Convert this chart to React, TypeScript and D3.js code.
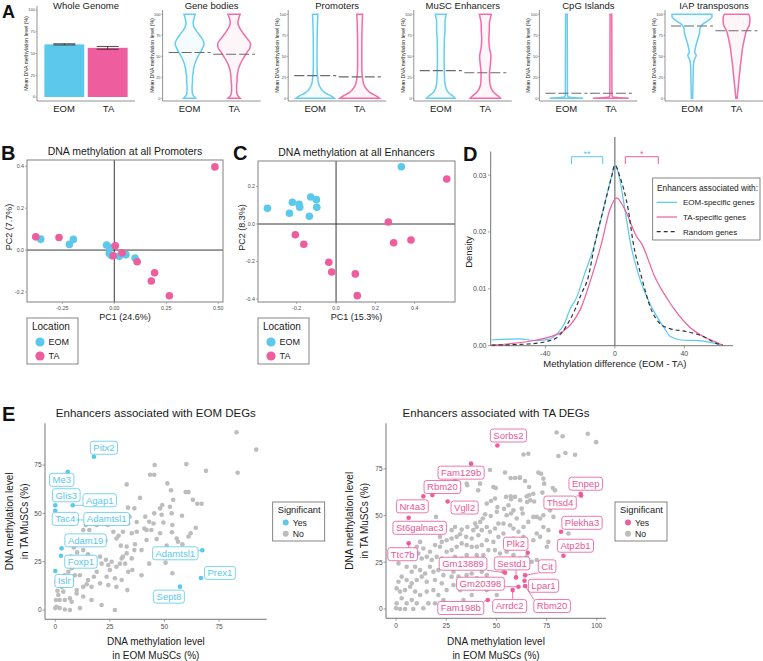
import React from "react";
import * as d3 from "d3";

const FONT = "'Liberation Sans', Arial, Helvetica, sans-serif";
const BLUE = "#5BC8EC";
const PINK = "#EE5D9D";
const LABEL_PINK = "#E9559A";
const GREY = "#BDBDBD";
const AXIS = "#666666";
const TICK_TXT = "#4D4D4D";
const INK = "#1A1A1A";

const locations = ["EOM", "TA"];
const locationColors = [BLUE, PINK];

// ---------- A: mean methylation ----------
const wholeGenomeMean = [60.5, 56.5];
const wholeGenomeSE = [0.7, 1.6];
const methylTicks = [0, 25, 50, 75, 100];
const violinRegions = ["Gene bodies", "Promoters", "MuSC Enhancers", "CpG Islands", "IAP transposons"];
// [methylation %, relative density]
const violinEOM = [
  [[0, 0.29], [5, 0.14], [10, 0.12], [15, 0.12], [20, 0.14], [25, 0.14], [30, 0.17], [35, 0.19], [40, 0.24], [45, 0.31], [50, 0.4], [55, 0.52], [60, 0.62], [65, 0.69], [70, 0.62], [75, 0.48], [80, 0.33], [85, 0.21], [90, 0.17], [95, 0.21], [100, 0.27]],
  [[0, 0.92], [3, 0.75], [6, 0.5], [10, 0.32], [15, 0.2], [20, 0.14], [25, 0.12], [30, 0.1], [40, 0.09], [60, 0.09], [80, 0.1], [90, 0.11], [95, 0.12], [100, 0.13]],
  [[0, 0.68], [3, 0.56], [6, 0.4], [10, 0.28], [15, 0.22], [20, 0.19], [30, 0.17], [50, 0.16], [70, 0.17], [80, 0.2], [90, 0.2], [95, 0.22], [100, 0.26]],
  [[0, 0.8], [1, 0.3], [2, 0.08], [4, 0.05], [100, 0.04]],
  [[0, 0.03], [20, 0.05], [40, 0.07], [47, 0.13], [51, 0.2], [55, 0.13], [62, 0.18], [70, 0.27], [78, 0.36], [83, 0.38], [88, 0.5], [93, 0.8], [97, 0.95], [100, 0.95]],
];
const violinTA = [
  [[0, 0.29], [5, 0.14], [10, 0.12], [15, 0.12], [20, 0.14], [25, 0.15], [30, 0.17], [35, 0.21], [40, 0.28], [45, 0.38], [50, 0.5], [55, 0.62], [60, 0.76], [65, 0.78], [70, 0.66], [75, 0.5], [80, 0.36], [85, 0.24], [90, 0.18], [95, 0.22], [100, 0.29]],
  [[0, 0.95], [3, 0.78], [6, 0.55], [10, 0.36], [15, 0.22], [20, 0.16], [25, 0.13], [30, 0.11], [40, 0.1], [60, 0.1], [80, 0.11], [90, 0.12], [95, 0.13], [100, 0.14]],
  [[0, 0.72], [3, 0.6], [6, 0.45], [10, 0.32], [15, 0.24], [20, 0.21], [30, 0.2], [40, 0.24], [50, 0.27], [60, 0.2], [70, 0.17], [80, 0.19], [90, 0.2], [95, 0.24], [100, 0.28]],
  [[0, 0.85], [1, 0.3], [2, 0.08], [4, 0.05], [100, 0.04]],
  [[0, 0.03], [10, 0.07], [20, 0.11], [30, 0.15], [40, 0.19], [50, 0.24], [60, 0.29], [70, 0.37], [80, 0.47], [88, 0.62], [95, 0.64], [100, 0.58]],
];
const violinMedianEOM = [54.5, 27, 33, 6, 86];
const violinMedianTA = [52.5, 25.5, 30.5, 6, 80.5];

// ---------- B / C: PCA ----------
const pcPromotersEOM = [
  [-0.354, 0.052], [-0.216, 0.027], [-0.197, 0.051], [-0.037, 0.024], [-0.021, 0.013],
  [-0.024, -0.016], [-0.013, -0.027], [0.024, -0.029], [0.056, -0.022], [0.1, -0.038],
];
const pcPromotersTA = [
  [-0.378, 0.063], [-0.266, 0.06], [0.005, 0.02], [-0.005, -0.027], [0.037, -0.013],
  [0.11, -0.056], [0.194, -0.108], [0.178, -0.148], [0.265, -0.218], [0.484, 0.397],
];
const pcEnhancersEOM = [
  [-0.349, 0.084], [-0.237, 0.057], [-0.222, 0.116], [-0.188, 0.105], [-0.185, 0.09],
  [-0.129, 0.144], [-0.1, 0.13], [-0.098, 0.089], [-0.136, 0.041], [0.332, 0.305],
];
const pcEnhancersTA = [
  [-0.207, -0.057], [-0.164, -0.108], [-0.037, -0.204], [-0.022, -0.256], [0.098, -0.266],
  [0.108, -0.382], [0.266, 0.011], [0.293, -0.1], [0.381, -0.085], [0.563, 0.24],
];

// ---------- D: density of methylation difference ----------
const densityEOMGenes = [[-71, 0.001], [-55, 0.0012], [-45, 0.0009], [-38, 0.0011], [-33, 0.0022], [-29, 0.0039], [-26, 0.0063], [-22, 0.0085], [-18, 0.0121], [-11.5, 0.018], [-6.7, 0.0239], [-2, 0.0297], [0, 0.0318], [2.5, 0.0297], [5.8, 0.0239], [9, 0.018], [14, 0.0121], [22, 0.0063], [28, 0.0033], [32, 0.0016], [38, 0.001], [48, 0.0009], [55, 0.0006], [62, 0.0001]];
const densityTAGenes = [[-71, 0.0001], [-58.5, 0.0004], [-45, 0.001], [-37, 0.0016], [-30, 0.0025], [-25, 0.0039], [-20, 0.0063], [-13.4, 0.0121], [-7.7, 0.018], [-2.9, 0.0239], [1, 0.026], [5.8, 0.0239], [12.5, 0.0192], [15.3, 0.018], [23, 0.0121], [30.7, 0.008], [34.5, 0.0063], [43, 0.0033], [51, 0.0016], [60, 0.0004], [62, 0.0001]];
const densityRandomGenes = [[-71, 0.0001], [-50, 0.0003], [-40, 0.0007], [-34, 0.0013], [-30, 0.0025], [-26, 0.0045], [-23, 0.0063], [-19.5, 0.009], [-15.3, 0.0121], [-11.5, 0.018], [-6.7, 0.0239], [-1.9, 0.0297], [0, 0.0318], [2.9, 0.0297], [7.7, 0.0239], [10.6, 0.018], [15.3, 0.0121], [21, 0.0063], [25.9, 0.0039], [31.7, 0.003], [41, 0.0025], [51, 0.0016], [58.5, 0.0004], [62, 0.0001]];
const densityLegend = ["EOM-specific genes", "TA-specific genes", "Random genes"];
const sigBrackets = [{ from: -25, to: -7, label: "**" }, { from: 6, to: 25, label: "*" }];

// ---------- E: enhancer methylation scatter ----------
const eomDegGrey = [
  [83, 92], [92, 83], [83.5, 71], [69, 72], [60, 75.5], [45.5, 75], [45.3, 70], [43.4, 70], [51.3, 65.5], [59.7, 61], [61, 61], [53, 62], [32.7, 65], [38.8, 58], [33.3, 53], [36.2, 52.6], [41.2, 48.3], [45.3, 50], [48.7, 49.3], [48, 52.6], [52.5, 53.4], [53.3, 50], [58, 48.8], [54, 57], [63, 57], [65, 55], [67, 55], [49, 54.3], [49.5, 45.3], [53.6, 44], [45, 44.8], [43, 45.7], [40.8, 42.2], [37.3, 45.5], [34, 48.3], [32, 46.2], [33.4, 44.8], [29.6, 45.7], [26.6, 46.6], [24, 44], [26.6, 40.5], [31, 40.5], [29, 38.4], [35, 39.7], [37.3, 40.5], [41.8, 41.4], [44, 41.4], [48, 39.7], [53.4, 40.2], [55.6, 37], [61, 38], [64.3, 42.6], [62, 39.7], [58.2, 34], [51, 33.3], [46.4, 36.7], [41.8, 36.2], [36.5, 34], [32.7, 32.8], [30, 33.3], [28, 37], [23, 36], [20.5, 38], [19, 44], [15.6, 41.4], [12.8, 41.4], [14, 44], [16.6, 38], [14.4, 36.6], [11.3, 35.3], [8.5, 32.4], [7, 27.6], [10, 29.8], [12.8, 31], [15, 28.8], [13.6, 26], [17.4, 26], [18.2, 23], [20.5, 27.6], [21.2, 24], [23.2, 26], [25.8, 25], [24.3, 23.3], [25, 20.7], [28, 22.4], [29.6, 24], [32, 24], [30.4, 26.7], [35, 26.7], [32.7, 29.3], [36.2, 31], [39.5, 31], [43, 24], [50.5, 24.5], [53.6, 19], [56.2, 35.3], [31, 27.6], [23.5, 17.2], [27.3, 16.4], [28, 12], [30.4, 15.5], [33.4, 19.8], [35.3, 20.7], [39.5, 18], [33, 10.3], [20.5, 13.8], [24.3, 12.9], [21.2, 2.6], [16.6, 12], [15, 15.5], [12.8, 12], [11.3, 18], [9, 18], [7.5, 15.5], [4.4, 18], [6, 19.8], [0.6, 14.7], [3, 12], [6, 14.7], [6.7, 13.8], [3.7, 9.5], [6.7, 6], [7.5, 4.3], [1.4, 7.8], [0.3, 5.2], [2, 5.2], [0.6, 1.7], [0, 1], [2, 1], [4.4, 0.3], [6.7, 0], [11.3, 1], [16.6, 5.2], [27.3, 0], [9.8, 10.3], [14.4, 13.3], [17.7, 17.2], [19, 19.8], [11.3, 24], [7.5, 21.6], [4.4, 5.2], [1, 10], [9.8, 8.6], [12.8, 7],
];
const eomSigGenes = ["Pitx2", "Me3", "Glis3", "Agap1", "Tac4", "Adamtsl1", "Adam19", "Foxp1", "Islr", "Adamtsl1", "Prex1", "Sept8"];
const eomSigEOM = [17.7, 5.7, 0, 8, 0, 9.8, 2.9, 2.6, 0, 67.3, 66.7, 57.1];
const eomSigTA = [79.3, 71.5, 54.2, 54.2, 51.3, 46.6, 31.9, 28.1, 20.2, 30.9, 16.6, 12.1];
const eomLabelNudge = [[10, -9], [-6, 8], [11, -10], [27, -5], [10, 8], [30, -1], [24, -8], [20, 6], [9, 10], [-27, 3], [19, -5], [-11, 10]];

const taDegGrey = [
  [80, 94.5], [83, 92.5], [95.5, 93.8], [99.7, 89.3], [84.4, 83.5], [80.9, 81.9], [89.2, 82.6], [63.5, 82.7], [65.9, 83.1], [70.9, 73], [72.3, 72.4], [61.5, 70.3], [54.3, 73], [46.8, 74.4], [41.9, 67.1], [35.2, 67.1], [29.4, 68.9], [35.5, 66.2], [40.9, 63.5], [40.2, 74.2], [48.5, 65.3], [49.7, 64.8], [57.1, 70.1], [59.3, 70.1], [61.8, 70.3], [64.3, 68.5], [73.4, 69.8], [73.8, 67.1], [78.1, 64.8], [79.2, 63.5], [72.9, 62.3], [66.3, 65.3], [68.4, 61.7], [66.3, 60.9], [65.1, 60.3], [57.1, 60.3], [54.8, 60], [59.3, 60], [57.3, 58.7], [61.8, 58.2], [65.3, 57.3], [66.8, 58.2], [68.8, 57.5], [49.3, 59.1], [47.3, 57.8], [45.2, 56.4], [50.5, 54.6], [53.8, 53.6], [56, 55.5], [58.5, 52.8], [62.6, 53.7], [63.1, 51.1], [60.1, 48.4], [57.3, 51.1], [55.1, 50.2], [50.2, 52], [47.2, 49.8], [44.4, 50.7], [43.2, 48.4], [41.9, 46.6], [39.4, 45.7], [40.2, 43.9], [38.5, 42.2], [35.5, 43.9], [32.7, 42.5], [29.4, 43.9], [27.7, 42.2], [23.6, 41.6], [21.9, 38.6], [19.9, 49.3], [22.8, 35.9], [25.2, 36.8], [27.7, 37.7], [30.2, 38.6], [31.9, 40], [34.9, 38.6], [37.7, 37.7], [41, 39.5], [42.7, 42.2], [45.2, 43.9], [46.8, 41.3], [49.3, 43.1], [51, 45.7], [53.5, 45.7], [56.8, 44.8], [58.5, 43.1], [61, 41.3], [63.5, 43.9], [65.9, 46.6], [68.4, 49.3], [70.1, 49.3], [71.8, 48.4], [73.4, 50.2], [76.7, 52.8], [78.4, 49.3], [73.4, 43.9], [75.9, 42.2], [71.8, 38.6], [68.4, 36.8], [63.5, 38.6], [61.8, 35.9], [58.5, 37.7], [56, 36.8], [53.5, 40.4], [51, 38.6], [48.5, 35.9], [45.2, 36.8], [42.7, 34.2], [40.2, 33.3], [37.7, 33.3], [35.2, 34.2], [32.7, 35.1], [30.2, 33.3], [27.7, 31.5], [25.2, 30.6], [21.9, 33.3], [19.4, 34.2], [16.9, 30.6], [13.6, 32.4], [12, 35.9], [10.3, 33.3], [11.1, 29.7], [7.8, 27], [12.8, 27], [15.3, 27.9], [17.8, 26.2], [20.3, 27.9], [22.8, 27], [25.2, 26.2], [29.4, 27.9], [32.7, 27], [35.2, 28.8], [40.2, 28.8], [43.5, 28.8], [46, 31.5], [49.3, 31.5], [51.8, 29.7], [55.1, 30.6], [58.5, 28.8], [61.8, 27], [65.1, 27.9], [67.6, 25.3], [70.1, 26.2], [75.9, 35.9], [75.1, 33.3], [85.9, 40.4], [70.1, 40.4], [75.1, 24.4], [1.2, 24.4], [5.3, 22.6], [7.8, 19.9], [9.5, 22.6], [12, 20.8], [14.5, 19], [16.9, 22.6], [18.6, 19.9], [21.1, 20.8], [23.6, 18.1], [26.1, 22.6], [28.6, 19.9], [31.1, 17.3], [27.7, 17.3], [32.7, 14.6], [35.2, 18.1], [37.7, 19], [40.2, 16.4], [42.7, 19.9], [45.2, 18.1], [47.7, 15.5], [50.2, 13.7], [53.5, 19.9], [41.9, 11.9], [38.5, 11], [34.4, 11.9], [31.9, 10.1], [28.6, 12.8], [25.2, 10.1], [22.8, 13.7], [19.4, 15.5], [15.3, 14.6], [12.8, 17.3], [10.3, 15.5], [7.8, 13.7], [5.3, 15.5], [2.8, 17.3], [1.2, 14.6], [0.3, 11], [2, 9.3], [4.5, 10.1], [7, 11.9], [9.5, 9.3], [12, 7.5], [15.3, 9.3], [18.6, 10.1], [21.1, 7.5], [23.6, 4.8], [19.4, 3], [16.1, 3], [13.6, 0.4], [10.3, 3], [7.8, 4.8], [5.3, 3], [2.8, 5.7], [0.3, 3], [0, 0.4], [2, 0], [4.5, 0], [8.6, 0], [28.6, 3], [37.7, 7.5], [50.2, 7.5], [45.2, 10.1], [33.6, 4.8],
];
const taSigGenes = ["Sorbs2", "Fam129b", "Rbm20", "Nr4a3", "Vgll2", "St6galnac3", "Ttc7b", "Enpep", "Thsd4", "Plekha3", "Atp2b1", "Plk2", "Gm13889", "Sestd1", "Cit", "Gm20398", "Lpar1", "Rbm20", "Arrdc2", "Fam198b"];
const taSigEOM = [50.5, 37.4, 18.1, 13.6, 25.7, 6.3, 6.3, 92, 92.2, 82.2, 83.4, 65.6, 54.3, 59.8, 64.3, 61, 64, 64.3, 58.1, 45.7];
const taSigTA = [87.5, 77.8, 61, 60.3, 57.5, 48.8, 35.2, 61.7, 60.7, 41.3, 28.5, 30.1, 19.4, 16.9, 18, 11.9, 15.1, 12.3, 10.1, 4.8];
const taLabelNudge = [[11, -10], [-10, 9], [10, -8], [-11, 10], [17, 6], [11, 10], [-6, 11], [5, -10], [-21, 7], [21, -9], [12, -10], [-12, -9], [-42, -9], [-4, -14], [22, -9], [-38, -3], [19, 5], [27, 20], [-3, 16], [-27, 8]];
const significance = ["Yes", "No"];

let measureCtx = null;
function textWidth(s, size) {
  if (!measureCtx && typeof document !== "undefined") measureCtx = document.createElement("canvas").getContext("2d");
  if (measureCtx) {
    measureCtx.font = `${size}px "Liberation Sans", Arial, sans-serif`;
    return measureCtx.measureText(s).width;
  }
  return s.length * size * 0.55;
}

function PanelA() {
  const yBar = d3.scaleLinear().domain([0, 100]).range([97, 10]);
  const yV = d3.scaleLinear().domain([0, 100]).range([98.3, 14.3]);
  const halfW = d3.scaleLinear().domain([0, 1]).range([0, 21]);
  const frames = d3.range(6).map((k) => {
    const x = d3.scalePoint().domain(locations).range([64 + 125.6 * k, 108.5 + 125.6 * k]);
    return { x, left: x("EOM") - 27, right: x("TA") + 26.5 };
  });
  const titles = ["Whole Genome", ...violinRegions];

  return (
    <g>
      {frames.map((f, k) => {
        const y = k === 0 ? yBar : yV;
        const top = k === 0 ? 6 : 10;
        return (
          <g key={k}>
            <text x={(f.left + f.right) / 2} y={9} textAnchor="middle" fontSize={9.5} fill={INK}>{titles[k]}</text>
            <line x1={f.left} x2={f.left} y1={top} y2={101} stroke={AXIS} strokeWidth={0.7} />
            <line x1={f.left} x2={f.right} y1={101} y2={101} stroke={AXIS} strokeWidth={0.7} />
            {methylTicks.map((t) => (
              <g key={t}>
                <line x1={f.left - 1.5} x2={f.left} y1={y(t)} y2={y(t)} stroke={AXIS} strokeWidth={0.5} />
                <text x={f.left - 2} y={y(t) + 1.4} textAnchor="end" fontSize={4} fill={TICK_TXT}>{t}</text>
              </g>
            ))}
            <text transform={`translate(${f.left - 9},${(top + 101) / 2}) rotate(-90)`} textAnchor="middle" fontSize={5.2} fill={INK}>
              Mean DNA methylation level (%)
            </text>
            {locations.map((loc) => (
              <text key={loc} x={f.x(loc)} y={111.5} textAnchor="middle" fontSize={9.5} fill={INK}>{loc}</text>
            ))}
          </g>
        );
      })}
      {(() => {
        const f = frames[0];
        const band = d3.scaleBand().domain(locations).range([f.left, f.right]).paddingInner(0.08).paddingOuter(0.17);
        return locations.map((loc, i) => {
          const cx = band(loc) + band.bandwidth() / 2;
          return (
            <g key={loc}>
              <rect x={band(loc)} y={yBar(wholeGenomeMean[i])} width={band.bandwidth()} height={yBar(0) - yBar(wholeGenomeMean[i])} fill={locationColors[i]} />
              <line x1={cx} x2={cx} y1={yBar(wholeGenomeMean[i] - wholeGenomeSE[i])} y2={yBar(wholeGenomeMean[i] + wholeGenomeSE[i])} stroke="#222" strokeWidth={0.8} />
              {[-1, 1].map((s) => (
                <line key={s} x1={cx - 11} x2={cx + 11} y1={yBar(wholeGenomeMean[i] + s * wholeGenomeSE[i])} y2={yBar(wholeGenomeMean[i] + s * wholeGenomeSE[i])} stroke="#222" strokeWidth={0.8} />
              ))}
            </g>
          );
        });
      })()}
      {violinRegions.map((region, r) => {
        const f = frames[r + 1];
        return (
          <g key={region}>
            {[violinEOM[r], violinTA[r]].map((prof, i) => {
              const cx = f.x(locations[i]);
              const area = d3.area().curve(d3.curveMonotoneY)
                .y((d) => yV(d[0]))
                .x0((d) => cx - halfW(d[1]))
                .x1((d) => cx + halfW(d[1]));
              const med = i === 0 ? violinMedianEOM[r] : violinMedianTA[r];
              return (
                <g key={i}>
                  <path d={area(prof)} fill={locationColors[i]} fillOpacity={0.06} stroke={locationColors[i]} strokeWidth={1.5} strokeOpacity={0.9} />
                  <line x1={cx - 21} x2={cx + 21} y1={yV(med)} y2={yV(med)} stroke="#6b6b6b" strokeWidth={1.1} strokeDasharray="10,3" />
                </g>
              );
            })}
          </g>
        );
      })}
    </g>
  );
}

function Legend({ x, y, w, h, title, titleSize, items, colors, itemSize, r, rowGap, firstRow }) {
  return (
    <g>
      <rect x={x} y={y} width={w} height={h} fill="white" stroke="#666" strokeWidth={0.8} />
      <text x={x + 5} y={y + titleSize + 1.5} fontSize={titleSize} fill={INK}>{title}</text>
      {items.map((it, i) => (
        <g key={it}>
          <circle cx={x + 13} cy={y + firstRow + i * rowGap} r={r} fill={colors[i]} />
          <text x={x + 13 + r + 4} y={y + firstRow + i * rowGap + itemSize * 0.36} fontSize={itemSize} fill={INK}>{it}</text>
        </g>
      ))}
    </g>
  );
}

function PCAPanel({ l, r, t, b, xDomain, yDomain, xTicks, yTicks, xFmt, yFmt, eom, ta, title, xTitle, yTitle, yTitleX }) {
  const x = d3.scaleLinear().domain(xDomain).range([l, r]);
  const y = d3.scaleLinear().domain(yDomain).range([b, t]);
  return (
    <g>
      <text x={(l + r) / 2} y={t - 5} textAnchor="middle" fontSize={10.5} fill={INK}>{title}</text>
      <line x1={x(0)} x2={x(0)} y1={t} y2={b} stroke="#222" strokeWidth={0.9} />
      <line x1={l} x2={r} y1={y(0)} y2={y(0)} stroke="#222" strokeWidth={0.9} />
      {eom.map((d, i) => <circle key={"e" + i} cx={x(d[0])} cy={y(d[1])} r={3.8} fill={BLUE} />)}
      {ta.map((d, i) => <circle key={"t" + i} cx={x(d[0])} cy={y(d[1])} r={3.8} fill={PINK} />)}
      <rect x={l} y={t} width={r - l} height={b - t} fill="none" stroke="#808080" strokeWidth={1} />
      {xTicks.map((v) => (
        <g key={v}>
          <line x1={x(v)} x2={x(v)} y1={b} y2={b + 2} stroke="#808080" strokeWidth={0.6} />
          <text x={x(v)} y={b + 7.5} textAnchor="middle" fontSize={5.3} fill={TICK_TXT}>{xFmt(v)}</text>
        </g>
      ))}
      {yTicks.map((v) => (
        <g key={v}>
          <line x1={l - 2} x2={l} y1={y(v)} y2={y(v)} stroke="#808080" strokeWidth={0.6} />
          <text x={l - 3} y={y(v) + 1.9} textAnchor="end" fontSize={5.3} fill={TICK_TXT}>{yFmt(v)}</text>
        </g>
      ))}
      <text x={(l + r) / 2} y={b + 18} textAnchor="middle" fontSize={9} fill={INK}>{xTitle}</text>
      <text transform={`translate(${yTitleX},${(t + b) / 2 - 4}) rotate(-90)`} textAnchor="middle" fontSize={9} fill={INK}>{yTitle}</text>
      <Legend x={l} y={b + 16} w={51} h={46} title="Location" titleSize={10} items={locations} colors={locationColors} itemSize={9} r={4.6} rowGap={14} firstRow={24} />
    </g>
  );
}

function DensityPanel() {
  const x = d3.scaleLinear().domain([-71.5, 68]).range([490.7, 733]);
  const y = d3.scaleLinear().domain([0, 0.0367]).range([345.7, 137]);
  const line = d3.line().curve(d3.curveMonotoneX).x((d) => x(d[0])).y((d) => y(d[1]));
  const series = [densityEOMGenes, densityTAGenes, densityRandomGenes];
  const colors = [BLUE, PINK, "#333"];
  const dashes = [null, null, "4,3"];
  return (
    <g>
      <line x1={x(0)} x2={x(0)} y1={137} y2={345.7} stroke="#444" strokeWidth={0.9} />
      <line x1={490.7} x2={490.7} y1={151.5} y2={345.7} stroke={AXIS} strokeWidth={0.9} />
      <line x1={490.7} x2={733} y1={345.7} y2={345.7} stroke={AXIS} strokeWidth={0.9} />
      {[0, 0.01, 0.02, 0.03].map((v) => (
        <g key={v}>
          <line x1={488} x2={490.7} y1={y(v)} y2={y(v)} stroke={AXIS} strokeWidth={0.6} />
          <text x={486.5} y={y(v) + 2.4} textAnchor="end" fontSize={7} fill={TICK_TXT}>{v.toFixed(2)}</text>
        </g>
      ))}
      {[-40, 0, 40].map((v) => (
        <g key={v}>
          <line x1={x(v)} x2={x(v)} y1={345.7} y2={348.5} stroke={AXIS} strokeWidth={0.6} />
          <text x={x(v)} y={355.5} textAnchor="middle" fontSize={7} fill={TICK_TXT}>{v}</text>
        </g>
      ))}
      {series.map((s, i) => (
        <path key={i} d={line(s)} fill="none" stroke={colors[i]} strokeWidth={1.2} strokeDasharray={dashes[i] || undefined} />
      ))}
      {sigBrackets.map((br, i) => (
        <g key={i}>
          <path d={`M${x(br.from)},164 V156.7 H${x(br.to)} V164`} fill="none" stroke={locationColors[i]} strokeWidth={1} />
          <text x={(x(br.from) + x(br.to)) / 2} y={157} textAnchor="middle" fontSize={9} fill={locationColors[i]}>{br.label}</text>
        </g>
      ))}
      <text x={x(0)} y={367} textAnchor="middle" fontSize={9.5} fill={INK}>Methylation difference (EOM - TA)</text>
      <text transform="translate(471.5,252) rotate(-90)" textAnchor="middle" fontSize={9.5} fill={INK}>Density</text>
      <rect x={652.7} y={178} width={107.3} height={62} fill="white" stroke="#666" strokeWidth={0.8} />
      <text x={657} y={191} fontSize={8.3} fill={INK}>Enhancers associated with:</text>
      {densityLegend.map((lab, i) => (
        <g key={lab}>
          <line x1={656.7} x2={677} y1={202.3 + i * 14.7} y2={202.3 + i * 14.7} stroke={colors[i]} strokeWidth={1.2} strokeDasharray={dashes[i] || undefined} />
          <text x={683} y={205.2 + i * 14.7} fontSize={8} fill={INK}>{lab}</text>
        </g>
      ))}
    </g>
  );
}

function RepelLabel({ px, py, lx, ly, text, color }) {
  const size = 9.5;
  const w = textWidth(text, size) + 6;
  const h = 13;
  const left = lx - w / 2;
  const top = ly - h / 2;
  const nx = Math.max(left, Math.min(px, left + w));
  const ny = Math.max(top, Math.min(py, top + h));
  const dist = Math.hypot(nx - px, ny - py);
  return (
    <g>
      {dist > 4 && <line x1={px} y1={py} x2={nx} y2={ny} stroke={color} strokeWidth={0.8} />}
      <rect x={left} y={top} width={w} height={h} rx={2.5} fill="white" fillOpacity={0.92} stroke={color} strokeWidth={0.8} />
      <text x={lx} y={ly + 3.4} textAnchor="middle" fontSize={size} fill={color}>{text}</text>
    </g>
  );
}

function ScatterPanel({ l, r, t, b, xDomain, yDomain, xTicks, yTicks, grey, genes, sigX, sigY, nudges, color, labelColor, title, yTitleX, legendX }) {
  const x = d3.scaleLinear().domain(xDomain).range([l, r]);
  const y = d3.scaleLinear().domain(yDomain).range([b, t]);
  const cx = (l + r) / 2;
  return (
    <g>
      <text x={cx} y={416.5} textAnchor="middle" fontSize={11.5} fill={INK}>{title}</text>
      <line x1={l} x2={l} y1={t} y2={b} stroke={AXIS} strokeWidth={0.9} />
      <line x1={l} x2={r} y1={b} y2={b} stroke={AXIS} strokeWidth={0.9} />
      {xTicks.map((v) => (
        <g key={v}>
          <line x1={x(v)} x2={x(v)} y1={b} y2={b + 2.5} stroke={AXIS} strokeWidth={0.6} />
          <text x={x(v)} y={b + 9.3} textAnchor="middle" fontSize={6.5} fill={TICK_TXT}>{v}</text>
        </g>
      ))}
      {yTicks.map((v) => (
        <g key={v}>
          <line x1={l - 2.5} x2={l} y1={y(v)} y2={y(v)} stroke={AXIS} strokeWidth={0.6} />
          <text x={l - 3.5} y={y(v) + 2.3} textAnchor="end" fontSize={6.5} fill={TICK_TXT}>{v}</text>
        </g>
      ))}
      {grey.map((d, i) => <circle key={i} cx={x(d[0])} cy={y(d[1])} r={2.3} fill={GREY} />)}
      {genes.map((g, i) => <circle key={"s" + i} cx={x(sigX[i])} cy={y(sigY[i])} r={2.3} fill={color} />)}
      {genes.map((g, i) => (
        <RepelLabel key={"l" + i} px={x(sigX[i])} py={y(sigY[i])} lx={x(sigX[i]) + nudges[i][0]} ly={y(sigY[i]) + nudges[i][1]} text={g} color={labelColor} />
      ))}
      <text x={cx} y={644.5} textAnchor="middle" fontSize={10} fill={INK}>DNA methylation level</text>
      <text x={cx} y={658.5} textAnchor="middle" fontSize={10} fill={INK}>in EOM MuSCs (%)</text>
      <text transform={`translate(${yTitleX},${(t + b) / 2}) rotate(-90)`} textAnchor="middle" fontSize={10} fill={INK}>DNA methylation level</text>
      <text transform={`translate(${yTitleX + 15},${(t + b) / 2}) rotate(-90)`} textAnchor="middle" fontSize={10} fill={INK}>in TA MuSCs (%)</text>
      <Legend x={legendX} y={502} w={52} h={39} title="Significant" titleSize={9.3} items={significance} colors={[color, GREY]} itemSize={8.7} r={3} rowGap={11.3} firstRow={20.5} />
    </g>
  );
}

export default function App() {
  const f2 = (v) => v.toFixed(2);
  const f1 = (v) => v.toFixed(1);
  return (
    <svg width={763} height={661} viewBox="0 0 763 661" fontFamily={FONT} style={{ position: "absolute", left: 0, top: 0, background: "#fff" }}>
      <rect width={763} height={661} fill="#fff" />
      <PanelA />
      <PCAPanel l={27} r={223} t={160} b={302} xDomain={[-0.42, 0.523]} yDomain={[-0.248, 0.43]} xTicks={[-0.25, 0, 0.25, 0.5]} yTicks={[-0.2, 0, 0.2, 0.4]} xFmt={f2} yFmt={f1}
        eom={pcPromotersEOM} ta={pcPromotersTA} title="DNA methylation at all Promoters" xTitle="PC1 (24.6%)" yTitle="PC2 (7.7%)" yTitleX={11.5} />
      <PCAPanel l={258} r={455} t={161} b={302} xDomain={[-0.397, 0.605]} yDomain={[-0.416, 0.336]} xTicks={[-0.2, 0, 0.2, 0.4]} yTicks={[-0.4, -0.2, 0, 0.2]} xFmt={f1} yFmt={f1}
        eom={pcEnhancersEOM} ta={pcEnhancersTA} title="DNA methylation at all Enhancers" xTitle="PC1 (15.3%)" yTitle="PC2 (8.3%)" yTitleX={245} />
      <DensityPanel />
      <ScatterPanel l={45} r={266.7} t={423.3} b={619.3} xDomain={[-4.7, 96.8]} yDomain={[-4.8, 96.6]} xTicks={[0, 25, 50, 75]} yTicks={[0, 25, 50, 75]}
        grey={eomDegGrey} genes={eomSigGenes} sigX={eomSigEOM} sigY={eomSigTA} nudges={eomLabelNudge} color={BLUE} labelColor={BLUE}
        title="Enhancers associated with EOM DEGs" yTitleX={13} legendX={272.7} />
      <ScatterPanel l={386} r={606} t={423.3} b={618.3} xDomain={[-5, 104.6]} yDomain={[-5, 99.4]} xTicks={[0, 25, 50, 75, 100]} yTicks={[0, 25, 50, 75]}
        grey={taDegGrey} genes={taSigGenes} sigX={taSigEOM} sigY={taSigTA} nudges={taLabelNudge} color={PINK} labelColor={LABEL_PINK}
        title="Enhancers associated with TA DEGs" yTitleX={353} legendX={615} />
      {[["A", 2, 17.5, 18], ["B", 1, 160, 20], ["C", 233, 160, 20], ["D", 463, 161, 20], ["E", 2, 421, 20]].map(([t, x, y, s]) => (
        <text key={t} x={x} y={y} fontSize={s} fontWeight="bold" fill="#111">{t}</text>
      ))}
    </svg>
  );
}
